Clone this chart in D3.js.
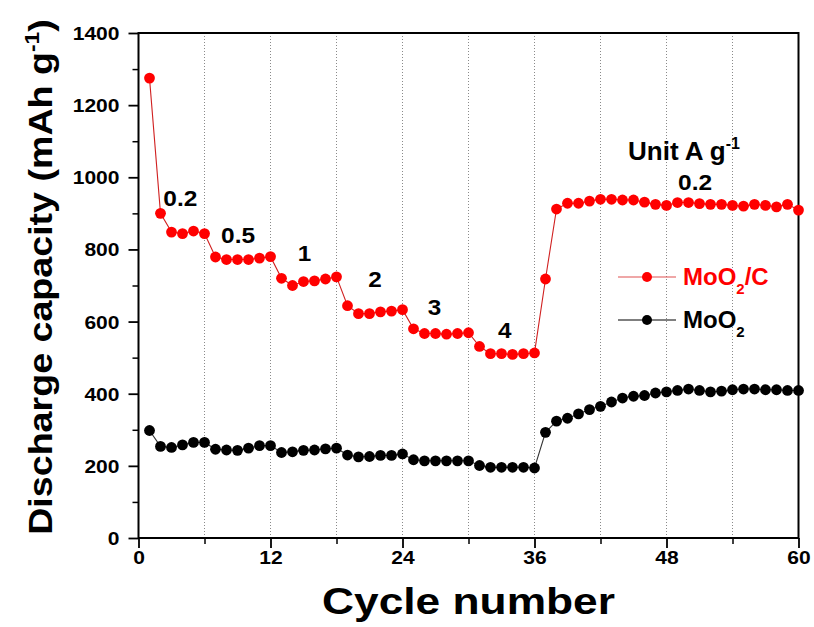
<!DOCTYPE html>
<html><head><meta charset="utf-8">
<script src="https://cdn.jsdelivr.net/npm/d3@7"></script>
<style>
body{margin:0;background:#fff;}
svg{display:block;font-family:Arial,"Liberation Sans",sans-serif;font-weight:bold;}
</style></head>
<body><svg id="c" width="814" height="627"></svg>
<script>
const cycles = [1,2,3,4,5,6,7,8,9,10,11,12,13,14,15,16,17,18,19,20,21,22,23,24,25,26,27,28,29,30,31,32,33,34,35,36,37,38,39,40,41,42,43,44,45,46,47,48,49,50,51,52,53,54,55,56,57,58,59,60];
const moo2c = [1275,900,848,844,851,844,779,772,772,772,776,780,720,700,711,713,718,724,644,622,622,627,629,633,580,567,567,565,567,569,531,511,511,509,511,513,718,912,928,928,934,939,939,937,937,931,925,922,930,930,927,925,925,922,920,925,922,918,925,909];
const moo2 = [298,254,251,258,265,265,246,244,243,249,256,256,237,239,243,244,247,249,230,225,226,229,229,233,217,214,214,214,214,214,201,196,196,196,196,194,293,324,332,344,356,365,377,388,393,395,402,405,409,413,409,405,407,411,413,413,411,411,409,409];
const xTicks = [0,12,24,36,48,60];
const xMinor = [6,18,30,42,54];
const yTicks = [0,200,400,600,800,1000,1200,1400];
const yMinor = [100,300,500,700,900,1100,1300];
const rateLabels = [
  {text:"0.2", c:3.8, v:920},
  {text:"0.5", c:9.05, v:818},
  {text:"1", c:15.1, v:768},
  {text:"2", c:21.5, v:696},
  {text:"3", c:26.9, v:618},
  {text:"4", c:33.3, v:554},
  {text:"0.2", c:50.6, v:965}
];

const svg = d3.select("#c");
const L=138.5, R=798.5, T=33, B=538;
const x = d3.scaleLinear().domain([0,60]).range([L,R]);
const y = d3.scaleLinear().domain([0,1400]).range([B,T]);

// grid
svg.append("g").selectAll("line").data(d3.range(6,60,6)).join("line")
  .attr("x1",d=>x(d)).attr("x2",d=>x(d)).attr("y1",T).attr("y2",B)
  .attr("stroke","#8a8a8a").attr("stroke-width",1).attr("stroke-dasharray","1,2");

// minor ticks
const gxm = svg.append("g").attr("transform",`translate(0,${B})`)
  .call(d3.axisBottom(x).tickValues(xMinor).tickSize(6).tickFormat(""));
const gym = svg.append("g").attr("transform",`translate(${L},0)`)
  .call(d3.axisLeft(y).tickValues(yMinor).tickSize(6).tickFormat(""));
[gxm,gym].forEach(g=>{g.select(".domain").remove();g.selectAll("line").attr("stroke","#000").attr("stroke-width",1.5);});

// major axes
const gx = svg.append("g").attr("transform",`translate(0,${B})`)
  .call(d3.axisBottom(x).tickValues(xTicks).tickSize(10).tickPadding(3).tickFormat(d3.format("d")));
const gy = svg.append("g").attr("transform",`translate(${L},0)`)
  .call(d3.axisLeft(y).tickValues(yTicks).tickSize(10).tickPadding(9).tickFormat(d3.format("d")));
[gx,gy].forEach(g=>{
  g.select(".domain").remove();
  g.selectAll("line").attr("stroke","#000").attr("stroke-width",1.8);
  g.selectAll("text").attr("fill","#000").style("font-size","18px").style("font-weight","bold")
   .attr("lengthAdjust","spacingAndGlyphs")
   .attr("textLength",function(){return this.textContent.length*11.7;});
});
gy.selectAll("text").attr("dy","0.36em");
gx.selectAll("text").attr("dy","0.72em");

// frame
svg.append("rect").attr("x",L).attr("y",T).attr("width",R-L).attr("height",B-T)
  .attr("fill","none").attr("stroke","#000").attr("stroke-width",2);

// series
const line = d3.line().x((d,i)=>x(cycles[i])).y(d=>y(d));
function series(vals, lineCol, dotCol){
  svg.append("path").datum(vals).attr("d",line).attr("fill","none")
    .attr("stroke",lineCol).attr("stroke-width",1.1);
  svg.append("g").selectAll("circle").data(vals).join("circle")
    .attr("cx",(d,i)=>x(cycles[i])).attr("cy",d=>y(d)).attr("r",5.4).attr("fill",dotCol);
}
series(moo2,"#333","#000");
series(moo2c,"#d02020","#ff0000");

// rate labels
svg.append("g").selectAll("text").data(rateLabels).join("text")
  .attr("x",d=>x(d.c)).attr("y",d=>y(d.v)).attr("text-anchor","middle")
  .style("font-size","22px").attr("fill","#000")
  .attr("lengthAdjust","spacingAndGlyphs")
  .attr("textLength",d=>d.text.length===1?13.5:34)
  .text(d=>d.text);

// Unit label
const u = svg.append("text").attr("x",628).attr("y",160).style("font-size","26px").attr("fill","#000");
u.append("tspan").text("Unit A g");
u.append("tspan").attr("dy","-11").style("font-size","16px").text("-1");

// legend
const leg = [{name:"MoO",sub:"2",tail:"/C",col:"#ff0000",lc:"#e05050",yy:277},
             {name:"MoO",sub:"2",tail:"",col:"#000",lc:"#000",yy:320}];
leg.forEach(d=>{
  svg.append("line").attr("x1",618).attr("x2",676).attr("y1",d.yy).attr("y2",d.yy)
    .attr("stroke",d.lc).attr("stroke-width",1.1);
  svg.append("circle").attr("cx",647).attr("cy",d.yy).attr("r",5).attr("fill",d.col);
  const t = svg.append("text").attr("x",683).attr("y",d.yy+8).style("font-size","24px").attr("fill",d.col);
  t.append("tspan").text(d.name);
  t.append("tspan").attr("dy",9).style("font-size","15px").text(d.sub);
  if(d.tail) t.append("tspan").attr("dy",-9).text(d.tail);
});

// axis titles
svg.append("text").attr("x",(L+R)/2).attr("y",614).attr("text-anchor","middle")
  .style("font-size","36px").attr("fill","#000")
  .attr("textLength",293).attr("lengthAdjust","spacingAndGlyphs").text("Cycle number");

const yl = svg.append("g").attr("transform","translate(52,277) rotate(-90) scale(1.14,1)");
const ylt = yl.append("text").attr("text-anchor","middle").style("font-size","33px").attr("fill","#000");
ylt.append("tspan").text("Discharge capacity (mAh g");
ylt.append("tspan").attr("dy",-13).style("font-size","20px").text("-1");
ylt.append("tspan").attr("dy",13).text(")");
</script></body></html>
